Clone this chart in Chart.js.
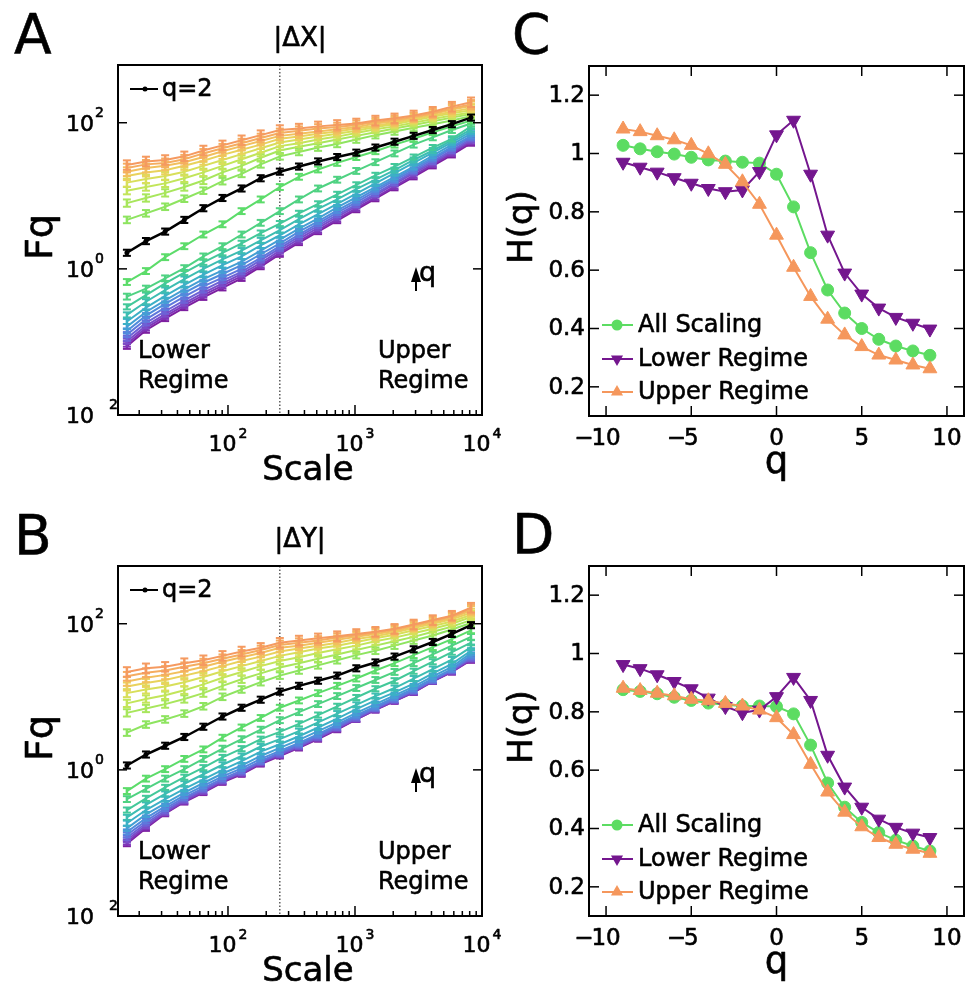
<!DOCTYPE html>
<html>
<head>
<meta charset="utf-8">
<script src="https://cdn.jsdelivr.net/npm/chart.js@4.4.1/dist/chart.umd.min.js"></script>
<style>
  html, body { margin: 0; padding: 0; background: #fff; }
  body { width: 973px; height: 984px; position: relative; overflow: hidden; }
  canvas { position: absolute; }
</style>
</head>
<body>
<canvas id="panelC" width="483" height="490" style="left:490px;top:0"></canvas>
<canvas id="panelD" width="483" height="494" style="left:490px;top:490px"></canvas>
<canvas id="panelA" width="505" height="490" style="left:0;top:0"></canvas>
<canvas id="panelB" width="505" height="494" style="left:0;top:490px"></canvas>
<script>
/* =====================================================
   Datos
===================================================== */
const FONT = '"DejaVu Sans", sans-serif'

const scaleValues = [16, 22.6, 32, 45.3, 64, 90.5, 128, 181, 256, 362, 512, 724, 1024, 1448, 2048, 2896, 4096, 5793, 8192]
const qValues = [-10, -9, -8, -7, -6, -5, -4, -3, -2, -1, 0, 1, 2, 3, 4, 5, 6, 7, 8, 9, 10]
const crossoverScale = 256

// log10(Fq), una fila por q (-10 ... 10) — panel A, |ΔX|
const logFqA = [
  [-1.06,-0.84,-0.68,-0.53,-0.39,-0.26,-0.13,0.03,0.20,0.36,0.51,0.66,0.81,0.96,1.11,1.26,1.41,1.56,1.72],
  [-1.03,-0.81,-0.65,-0.50,-0.36,-0.23,-0.10,0.05,0.22,0.38,0.53,0.68,0.83,0.98,1.13,1.28,1.43,1.58,1.74],
  [-0.99,-0.78,-0.62,-0.47,-0.33,-0.20,-0.07,0.08,0.25,0.41,0.56,0.71,0.86,1.01,1.16,1.31,1.45,1.60,1.76],
  [-0.95,-0.74,-0.58,-0.43,-0.29,-0.16,-0.04,0.12,0.28,0.44,0.59,0.74,0.88,1.03,1.18,1.33,1.47,1.62,1.78],
  [-0.90,-0.69,-0.53,-0.38,-0.24,-0.12,0.00,0.15,0.31,0.47,0.62,0.77,0.91,1.06,1.21,1.35,1.50,1.65,1.80],
  [-0.85,-0.64,-0.48,-0.33,-0.19,-0.07,0.05,0.20,0.35,0.51,0.65,0.80,0.94,1.09,1.23,1.38,1.52,1.67,1.82],
  [-0.79,-0.59,-0.43,-0.28,-0.14,-0.02,0.10,0.25,0.40,0.55,0.69,0.84,0.98,1.12,1.26,1.40,1.55,1.70,1.85],
  [-0.72,-0.53,-0.37,-0.22,-0.08,0.05,0.17,0.32,0.46,0.61,0.75,0.89,1.03,1.17,1.31,1.45,1.59,1.73,1.88],
  [-0.63,-0.45,-0.29,-0.14,0.00,0.13,0.25,0.39,0.53,0.68,0.82,0.95,1.09,1.22,1.35,1.49,1.62,1.76,1.91],
  [-0.52,-0.36,-0.20,-0.05,0.09,0.22,0.35,0.49,0.62,0.76,0.89,1.02,1.15,1.28,1.40,1.53,1.66,1.78,1.95],
  [-0.38,-0.27,-0.13,0.01,0.17,0.31,0.47,0.63,0.79,0.95,1.10,1.22,1.34,1.46,1.58,1.70,1.80,1.90,1.99],
  [-0.18,-0.03,0.16,0.31,0.47,0.61,0.79,0.95,1.12,1.26,1.36,1.45,1.53,1.61,1.70,1.78,1.87,1.95,2.03],
  [0.22,0.38,0.51,0.67,0.83,0.97,1.10,1.24,1.33,1.40,1.47,1.53,1.59,1.66,1.74,1.82,1.90,1.98,2.07],
  [0.67,0.76,0.85,0.96,1.07,1.20,1.30,1.43,1.54,1.60,1.66,1.71,1.77,1.83,1.88,1.93,1.98,2.03,2.09],
  [0.90,0.97,1.04,1.12,1.21,1.32,1.41,1.52,1.62,1.67,1.72,1.77,1.82,1.87,1.92,1.97,2.02,2.07,2.12],
  [1.07,1.12,1.17,1.24,1.32,1.41,1.50,1.59,1.68,1.72,1.77,1.81,1.86,1.91,1.95,2.00,2.05,2.10,2.14],
  [1.18,1.23,1.27,1.33,1.41,1.49,1.57,1.65,1.73,1.77,1.81,1.85,1.89,1.94,1.98,2.03,2.08,2.13,2.17],
  [1.27,1.32,1.35,1.41,1.48,1.56,1.63,1.70,1.78,1.81,1.85,1.88,1.92,1.96,2.00,2.05,2.10,2.15,2.20],
  [1.33,1.38,1.41,1.46,1.53,1.61,1.68,1.75,1.82,1.85,1.88,1.91,1.94,1.99,2.02,2.07,2.12,2.18,2.23],
  [1.38,1.43,1.45,1.50,1.58,1.65,1.72,1.79,1.86,1.89,1.92,1.94,1.97,2.01,2.04,2.08,2.13,2.20,2.25],
  [1.42,1.47,1.49,1.54,1.62,1.69,1.76,1.83,1.90,1.92,1.95,1.97,1.99,2.03,2.06,2.10,2.15,2.22,2.28],
]
const errA = [0.035,0.035,0.035,0.035,0.035,0.035,0.035,0.035,0.035,0.035,0.04,0.04,0.042,0.045,0.05,0.05,0.055,0.055,0.06,0.06,0.065]

// log10(Fq) — panel B, |ΔY|
const logFqB = [
  [-1.01,-0.80,-0.60,-0.44,-0.31,-0.17,-0.06,0.08,0.19,0.30,0.42,0.55,0.69,0.82,0.94,1.06,1.21,1.34,1.50],
  [-0.99,-0.78,-0.59,-0.43,-0.30,-0.16,-0.05,0.09,0.20,0.31,0.43,0.56,0.69,0.82,0.94,1.06,1.21,1.34,1.51],
  [-0.96,-0.76,-0.58,-0.42,-0.29,-0.15,-0.04,0.10,0.21,0.32,0.44,0.57,0.70,0.83,0.95,1.07,1.22,1.35,1.52],
  [-0.93,-0.73,-0.56,-0.40,-0.27,-0.14,-0.03,0.11,0.22,0.33,0.45,0.58,0.71,0.84,0.96,1.08,1.22,1.36,1.53],
  [-0.89,-0.70,-0.53,-0.38,-0.25,-0.12,-0.01,0.12,0.24,0.35,0.47,0.60,0.73,0.85,0.97,1.09,1.23,1.37,1.55],
  [-0.85,-0.66,-0.50,-0.35,-0.22,-0.09,0.02,0.15,0.26,0.37,0.49,0.62,0.75,0.87,0.99,1.11,1.25,1.38,1.57],
  [-0.80,-0.61,-0.46,-0.31,-0.18,-0.05,0.06,0.19,0.30,0.41,0.53,0.65,0.78,0.90,1.02,1.14,1.28,1.41,1.60],
  [-0.73,-0.55,-0.40,-0.26,-0.13,0.00,0.12,0.25,0.35,0.46,0.58,0.70,0.83,0.95,1.06,1.18,1.32,1.45,1.63],
  [-0.65,-0.48,-0.33,-0.19,-0.06,0.07,0.19,0.32,0.42,0.53,0.65,0.77,0.89,1.01,1.12,1.25,1.38,1.51,1.68],
  [-0.55,-0.39,-0.24,-0.10,0.03,0.17,0.29,0.42,0.52,0.63,0.75,0.87,0.99,1.11,1.22,1.35,1.48,1.61,1.74],
  [-0.40,-0.26,-0.12,0.01,0.15,0.29,0.42,0.55,0.68,0.79,0.90,1.01,1.12,1.23,1.34,1.46,1.58,1.70,1.82],
  [-0.29,-0.12,0.01,0.15,0.28,0.44,0.58,0.71,0.85,0.95,1.05,1.15,1.25,1.36,1.46,1.57,1.68,1.79,1.91],
  [0.06,0.21,0.33,0.45,0.59,0.73,0.85,0.96,1.07,1.15,1.22,1.29,1.39,1.47,1.55,1.65,1.75,1.86,1.98],
  [0.51,0.62,0.69,0.77,0.87,1.00,1.10,1.20,1.29,1.36,1.43,1.50,1.57,1.63,1.70,1.77,1.84,1.92,2.01],
  [0.78,0.84,0.90,0.97,1.05,1.15,1.24,1.32,1.40,1.46,1.52,1.58,1.64,1.70,1.76,1.82,1.89,1.96,2.05],
  [0.91,0.97,1.02,1.09,1.17,1.26,1.34,1.42,1.49,1.54,1.60,1.65,1.70,1.76,1.81,1.87,1.93,2.00,2.09],
  [1.05,1.10,1.14,1.20,1.27,1.35,1.42,1.49,1.56,1.61,1.66,1.70,1.75,1.80,1.85,1.91,1.97,2.03,2.12],
  [1.14,1.19,1.23,1.29,1.35,1.42,1.49,1.55,1.62,1.66,1.70,1.74,1.79,1.83,1.88,1.94,2.00,2.06,2.15],
  [1.21,1.26,1.30,1.35,1.41,1.48,1.54,1.60,1.67,1.70,1.74,1.78,1.82,1.86,1.90,1.96,2.02,2.08,2.18],
  [1.28,1.33,1.36,1.41,1.46,1.52,1.58,1.64,1.71,1.74,1.77,1.81,1.84,1.88,1.92,1.98,2.04,2.10,2.20],
  [1.34,1.39,1.41,1.46,1.50,1.56,1.62,1.67,1.74,1.77,1.80,1.83,1.86,1.89,1.93,1.99,2.05,2.11,2.22],
]
const errB = [0.035,0.035,0.035,0.035,0.035,0.035,0.035,0.035,0.035,0.035,0.04,0.04,0.042,0.045,0.05,0.05,0.055,0.055,0.06,0.06,0.065]

// H(q)
const qH = [-9, -8, -7, -6, -5, -4, -3, -2, -1, 0, 1, 2, 3, 4, 5, 6, 7, 8, 9]
const hAllC = [1.028,1.016,1.006,0.998,0.987,0.978,0.974,0.970,0.967,0.929,0.817,0.660,0.532,0.453,0.400,0.363,0.340,0.323,0.308]
const hLowC = [0.970,0.953,0.936,0.917,0.898,0.880,0.869,0.875,0.938,1.064,1.114,0.929,0.720,0.590,0.518,0.470,0.438,0.418,0.398]
const hUpC  = [1.084,1.075,1.061,1.047,1.028,0.999,0.963,0.903,0.826,0.720,0.610,0.510,0.432,0.378,0.338,0.309,0.292,0.275,0.262]
const hAllD = [0.876,0.870,0.862,0.850,0.839,0.830,0.824,0.820,0.820,0.818,0.793,0.686,0.556,0.473,0.421,0.386,0.360,0.340,0.323]
const hLowD = [0.962,0.948,0.927,0.904,0.879,0.847,0.818,0.797,0.806,0.852,0.918,0.839,0.651,0.542,0.473,0.432,0.404,0.384,0.369]
const hUpD  = [0.881,0.873,0.864,0.855,0.843,0.838,0.829,0.820,0.806,0.780,0.722,0.620,0.525,0.456,0.406,0.369,0.346,0.329,0.315]
const hSeriesNames = ["All Scaling", "Lower Regime", "Upper Regime"]

// Ticks
const fqYTickExps = [-2, 0, 2]
const fqYTickLabels = [["10", "\u20032"], ["10", "0"], ["10", "2"]]
const scaleTickExps = [2, 3, 4]
const scaleTickLabels = [["10", "2"], ["10", "3"], ["10", "4"]]
const scaleMinorTicks = [20,30,40,50,60,70,80,90,200,300,400,500,600,700,800,900,2000,3000,4000,5000,6000,7000,8000,9000]
const hTicks = [0.2, 0.4, 0.6, 0.8, 1, 1.2]
const hTickLabels = ["0.2", "0.4", "0.6", "0.8", "1", "1.2"]
const qTicks = [-10, -5, 0, 5, 10]
const qTickLabels = ["\u221210", "\u22125", "0", "5", "10"]

/* =====================================================
   Estilos
===================================================== */
const LINE_COLORS = [
  "#7d1fa0", "#7f36b8", "#7a4cc8", "#6d62d6", "#5f78dc", "#508cdc", "#449fd4",
  "#3cb0c6", "#3dbdb2", "#43c89a", "#4fd282", "#5cdc6a", "#000000",
  "#8ee460", "#a8e65c", "#c2e55a", "#d8df5a", "#e9d25c", "#f2c05e", "#f5ad60", "#f59a60",
]
const GREEN = "#5cdc62"
const PURPLE = "#74168e"
const ORANGE = "#f5975c"

/* =====================================================
   Plugin de decoración (ejes estilo MATLAB, textos)
===================================================== */
function seg(ctx, x1, y1, x2, y2) {
  ctx.beginPath(); ctx.moveTo(x1, y1); ctx.lineTo(x2, y2); ctx.stroke()
}

// texto con un trazo fino para acercarse al grosor del original
function txt(ctx, s, x, y) {
  ctx.save()
  ctx.strokeStyle = ctx.fillStyle
  ctx.lineWidth = 0.6
  ctx.lineJoin = "round"
  ctx.strokeText(s, x, y)
  ctx.fillText(s, x, y)
  ctx.restore()
}

function marker(ctx, style, x, y, r, color) {
  ctx.save()
  ctx.fillStyle = color
  ctx.beginPath()
  if (style === "circle") {
    ctx.arc(x, y, r, 0, Math.PI * 2)
  } else {
    const s = style === "down" ? -1 : 1
    ctx.moveTo(x, y - s * r)
    ctx.lineTo(x + r * 0.866, y + s * r * 0.5)
    ctx.lineTo(x - r * 0.866, y + s * r * 0.5)
    ctx.closePath()
  }
  ctx.fill()
  ctx.restore()
}

function drawFqDecor(chart, o) {
  const { ctx, chartArea: a, scales: { x, y } } = chart
  ctx.save()
  ctx.fillStyle = "#000"
  ctx.strokeStyle = "#000"

  ctx.lineWidth = 2
  ctx.strokeRect(a.left, a.top, a.right - a.left, a.bottom - a.top)

  ctx.lineWidth = 1.5
  fqYTickExps.forEach(e => {
    const py = y.getPixelForValue(10 ** e)
    seg(ctx, a.left, py, a.left + 9, py)
    seg(ctx, a.right, py, a.right - 9, py)
  })
  scaleTickExps.forEach(e => {
    const px = x.getPixelForValue(10 ** e)
    seg(ctx, px, a.bottom, px, a.bottom - 10)
  })
  scaleMinorTicks.forEach(v => {
    const px = x.getPixelForValue(v)
    seg(ctx, px, a.bottom, px, a.bottom - 5)
  })

  // etiquetas eje y
  ctx.textBaseline = "alphabetic"
  fqYTickExps.forEach((e, i) => {
    const py = y.getPixelForValue(10 ** e)
    const [b, ex] = fqYTickLabels[i]
    ctx.font = "22px " + FONT
    ctx.textAlign = "right"
    txt(ctx, b, a.left - 24, py + 8)
    ctx.font = "14px " + FONT
    ctx.textAlign = "left"
    txt(ctx, ex, a.left - 23, py - 6)
  })
  // etiquetas eje x
  scaleTickExps.forEach((e, i) => {
    const px = x.getPixelForValue(10 ** e)
    const [b, ex] = scaleTickLabels[i]
    ctx.font = "22px " + FONT
    const wb = ctx.measureText(b).width
    ctx.font = "14px " + FONT
    const we = ctx.measureText(ex).width
    const x0 = px - (wb + 2 + we) / 2
    ctx.textAlign = "left"
    ctx.font = "22px " + FONT
    txt(ctx, b, x0, a.bottom + 36)
    ctx.font = "14px " + FONT
    txt(ctx, ex, x0 + wb + 2, a.bottom + 23)
  })

  const cx = (a.left + a.right) / 2
  ctx.textAlign = "center"
  ctx.font = "34px " + FONT
  txt(ctx, "Scale", cx + 8, a.bottom + 65)
  ctx.font = "26px " + FONT
  txt(ctx, o.title, cx, a.top - 19)
  ctx.textAlign = "left"
  ctx.font = "55px " + FONT
  txt(ctx, o.letter, a.left - 104, a.top - 12)

  ctx.save()
  ctx.translate(a.left - 66, (a.top + a.bottom) / 2 - 3)
  ctx.rotate(-Math.PI / 2)
  ctx.textAlign = "center"
  ctx.font = "38px " + FONT
  txt(ctx, "Fq", 0, 0)
  ctx.restore()

  // leyenda q=2
  const ly = a.top + 24
  ctx.lineWidth = 2
  seg(ctx, a.left + 12, ly, a.left + 40, ly)
  marker(ctx, "circle", a.left + 27, ly, 2.5, "#000")
  ctx.font = "24px " + FONT
  ctx.textBaseline = "middle"
  txt(ctx, "q=2", a.left + 44, ly + 1)

  // flecha q
  ctx.textBaseline = "alphabetic"
  const ax = a.left + 298
  ctx.lineWidth = 2
  seg(ctx, ax, a.top + 226, ax, a.top + 212)
  ctx.beginPath()
  ctx.moveTo(ax, a.top + 202)
  ctx.lineTo(ax + 5, a.top + 217)
  ctx.lineTo(ax - 5, a.top + 217)
  ctx.closePath()
  ctx.fill()
  ctx.font = "27px " + FONT
  txt(ctx, "q", ax + 3, a.top + 216)

  ctx.font = "24px " + FONT
  txt(ctx, "Lower", a.left + 20, a.top + 293)
  txt(ctx, "Regime", a.left + 20, a.top + 323)
  txt(ctx, "Upper", a.left + 260, a.top + 293)
  txt(ctx, "Regime", a.left + 260, a.top + 323)
  ctx.restore()
}

function drawHDecor(chart, o) {
  const { ctx, chartArea: a, scales: { x, y } } = chart
  ctx.save()
  ctx.fillStyle = "#000"
  ctx.strokeStyle = "#000"
  ctx.lineWidth = 2
  ctx.strokeRect(a.left, a.top, a.right - a.left, a.bottom - a.top)

  ctx.lineWidth = 1.5
  hTicks.forEach(v => {
    const py = y.getPixelForValue(v)
    seg(ctx, a.left, py, a.left + 10, py)
    seg(ctx, a.right, py, a.right - 10, py)
  })
  qTicks.forEach(v => {
    const px = x.getPixelForValue(v)
    seg(ctx, px, a.bottom, px, a.bottom - 10)
    seg(ctx, px, a.top, px, a.top + 10)
  })

  ctx.font = "23px " + FONT
  ctx.textBaseline = "middle"
  ctx.textAlign = "right"
  hTicks.forEach((v, i) => txt(ctx, hTickLabels[i], a.left - 4, y.getPixelForValue(v) + 1))

  ctx.textBaseline = "alphabetic"
  ctx.textAlign = "left"
  qTicks.forEach((v, i) => {
    const lab = qTickLabels[i]
    const neg = lab.startsWith("\u2212")
    const digits = neg ? lab.slice(1) : lab
    const wd = ctx.measureText(digits).width
    const xs = x.getPixelForValue(v) - wd / 2
    txt(ctx, digits, xs, a.bottom + 29)
    if (neg) {
      const wm = ctx.measureText("\u2212").width
      txt(ctx, "\u2212", xs - wm + 2, a.bottom + 29)
    }
  })

  const cx = (a.left + a.right) / 2
  ctx.textAlign = "center"
  ctx.font = "37px " + FONT
  txt(ctx, "q", cx, a.bottom + 57)
  ctx.textAlign = "left"
  ctx.font = "55px " + FONT
  txt(ctx, o.letter, a.left - 77, a.top - 13)

  ctx.save()
  ctx.translate(a.left - 57, (a.top + a.bottom) / 2 - 14)
  ctx.rotate(-Math.PI / 2)
  ctx.textAlign = "center"
  ctx.font = "34px " + FONT
  txt(ctx, "H(q)", 0, 0)
  ctx.restore()

  // leyenda
  const rows = [a.bottom - 91, a.bottom - 57, a.bottom - 24]
  const cols = [GREEN, PURPLE, ORANGE]
  const styles = ["circle", "down", "up"]
  ctx.font = "24px " + FONT
  ctx.textBaseline = "middle"
  rows.forEach((ry, i) => {
    ctx.strokeStyle = cols[i]
    ctx.lineWidth = 2
    seg(ctx, a.left + 13, ry, a.left + 44, ry)
    marker(ctx, styles[i], a.left + 28, ry, styles[i] === "circle" ? 5.5 : 7, cols[i])
    ctx.fillStyle = "#000"
    txt(ctx, hSeriesNames[i], a.left + 49, ry + 1)
  })
  ctx.restore()
}

const decorPlugin = {
  id: "decor",
  beforeDatasetsDraw(chart, args, o) {
    if (o.kind !== "fq") return
    const { ctx, chartArea: a, scales: { x } } = chart
    const px = x.getPixelForValue(crossoverScale)
    ctx.save()
    ctx.strokeStyle = "#333"
    ctx.lineWidth = 1.2
    ctx.setLineDash([1.5, 2])
    seg(ctx, px, a.top, px, a.bottom)
    ctx.restore()
  },
  afterDatasetDraw(chart, args) {
    const ds = chart.data.datasets[args.index]
    if (!ds.errLog) return
    const ctx = chart.ctx, y = chart.scales.y
    ctx.save()
    ctx.strokeStyle = ds.borderColor
    args.meta.data.forEach((pt, i) => {
      const y1 = y.getPixelForValue(10 ** (ds.logs[i] - ds.errLog))
      const y2 = y.getPixelForValue(10 ** (ds.logs[i] + ds.errLog))
      ctx.lineWidth = 2.5
      seg(ctx, pt.x, y1, pt.x, y2)
      ctx.lineWidth = 2
      seg(ctx, pt.x - 4, y1, pt.x + 4, y1)
      seg(ctx, pt.x - 4, y2, pt.x + 4, y2)
    })
    ctx.restore()
  },
  afterDraw(chart, args, o) {
    if (o.kind === "fq") drawFqDecor(chart, o)
    else if (o.kind === "h") drawHDecor(chart, o)
  }
}
Chart.register(decorPlugin)

/* =====================================================
   Gráficos Fq (log-log)
===================================================== */
function renderFq(id, logRows, errs, letter, title, padTop, padBottom) {
  const datasets = qValues.map((q, k) => ({
    label: "q=" + q,
    data: scaleValues.map((s, i) => ({ x: s, y: 10 ** logRows[k][i] })),
    logs: logRows[k],
    errLog: errs[k],
    borderColor: LINE_COLORS[k],
    borderWidth: q === 2 ? 2.5 : 2,
    pointRadius: q === 2 ? 2.5 : 0,
    pointBackgroundColor: "#000",
    pointBorderWidth: 0,
    order: q === 2 ? 0 : 11 - q,
  }))

  return new Chart(document.getElementById(id), {
    type: "line",
    data: { datasets },
    options: {
      responsive: false,
      animation: false,
      devicePixelRatio: 1,
      layout: { padding: { left: 118, right: 23, top: padTop, bottom: padBottom } },
      plugins: {
        legend: { display: false },
        tooltip: { enabled: false },
        decor: { kind: "fq", letter, title },
      },
      scales: {
        x: { type: "logarithmic", min: 10 ** 1.134, max: 10000, bounds: "data", display: false },
        y: { type: "logarithmic", min: 0.01, max: 10 ** 2.79, bounds: "data", display: false },
      }
    }
  })
}

/* =====================================================
   Gráficos H(q)
===================================================== */
function renderH(id, all, low, up, letter, padTop, padBottom) {
  const mk = arr => qH.map((q, i) => ({ x: q, y: arr[i] }))
  return new Chart(document.getElementById(id), {
    type: "line",
    data: {
      datasets: [
        { label: hSeriesNames[0], data: mk(all), borderColor: GREEN, backgroundColor: GREEN,
          pointBackgroundColor: GREEN, pointBorderColor: GREEN, pointStyle: "circle",
          pointRadius: 6, pointBorderWidth: 1, borderWidth: 2, order: 3 },
        { label: hSeriesNames[1], data: mk(low), borderColor: PURPLE, backgroundColor: PURPLE,
          pointBackgroundColor: PURPLE, pointBorderColor: PURPLE, pointStyle: "triangle",
          pointRotation: 180, pointRadius: 8, pointBorderWidth: 1, borderWidth: 2, order: 2 },
        { label: hSeriesNames[2], data: mk(up), borderColor: ORANGE, backgroundColor: ORANGE,
          pointBackgroundColor: ORANGE, pointBorderColor: ORANGE, pointStyle: "triangle",
          pointRadius: 8, pointBorderWidth: 1, borderWidth: 2, order: 1 },
      ]
    },
    options: {
      responsive: false,
      animation: false,
      devicePixelRatio: 1,
      layout: { padding: { left: 99, right: 6, top: padTop, bottom: padBottom } },
      plugins: {
        legend: { display: false },
        tooltip: { enabled: false },
        decor: { kind: "h", letter },
      },
      scales: {
        x: { type: "linear", min: -11, max: 11, bounds: "data", display: false },
        y: { type: "linear", min: 0.1, max: 1.3, bounds: "data", display: false },
      }
    }
  })
}

renderFq("panelA", logFqA, errA, "A", "|\u0394X|", 65, 75)
renderFq("panelB", logFqB, errB, "B", "|\u0394Y|", 76, 68)
renderH("panelC", hAllC, hLowC, hUpC, "C", 66, 74)
renderH("panelD", hAllD, hLowD, hUpD, "D", 76, 68)
</script>
</body>
</html>
